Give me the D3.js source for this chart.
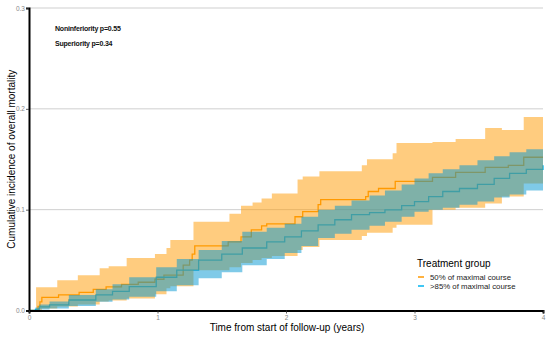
<!DOCTYPE html>
<html>
<head>
<meta charset="utf-8">
<script src="https://cdn.jsdelivr.net/npm/d3@7"></script>
<style>
  body { margin: 0; background: #fff; }
  svg { display: block; font-family: "Liberation Sans", Arial, sans-serif; }
</style>
</head>
<body>
<svg id="chart" width="550" height="337"></svg>
<script>
// cumulative incidence, 50% course group
const orangeT = [0, 0.07, 0.085, 0.10, 0.23, 0.39, 0.50, 0.60, 0.72, 0.85, 0.98, 1.05, 1.20, 1.25, 1.27, 1.29, 1.55, 1.65, 1.73, 1.81, 1.85, 2.07, 2.13, 2.25, 2.27, 2.62, 2.64, 2.72, 2.85, 3.14, 3.32, 3.55, 3.73, 3.85, 4.0];
const orangeEst = [0, 0.004, 0.0085, 0.013, 0.0155, 0.018, 0.021, 0.0235, 0.026, 0.028, 0.031, 0.035, 0.045, 0.050, 0.056, 0.064, 0.068, 0.073, 0.080, 0.084, 0.086, 0.093, 0.098, 0.105, 0.110, 0.113, 0.118, 0.121, 0.128, 0.132, 0.137, 0.142, 0.144, 0.152, 0.152];

const orangeBandT = [0, 0.055, 0.10, 0.22, 0.38, 0.55, 0.62, 0.76, 0.98, 1.07, 1.10, 1.28, 1.56, 1.65, 1.74, 1.81, 1.89, 2.09, 2.13, 2.26, 2.59, 2.63, 2.83, 2.86, 3.14, 3.32, 3.55, 3.68, 3.85, 4.0];
const orangeUpper = [0, 0.023, 0.023, 0.030, 0.035, 0.042, 0.044, 0.052, 0.056, 0.062, 0.070, 0.088, 0.096, 0.104, 0.107, 0.111, 0.116, 0.130, 0.133, 0.138, 0.144, 0.150, 0.156, 0.166, 0.167, 0.170, 0.181, 0.179, 0.192, 0.192];
const orangeLower = [0, 0, 0.002, 0.004, 0.006, 0.009, 0.010, 0.012, 0.016, 0.022, 0.024, 0.040, 0.043, 0.047, 0.050, 0.052, 0.054, 0.060, 0.063, 0.070, 0.074, 0.077, 0.082, 0.085, 0.100, 0.102, 0.106, 0.113, 0.126, 0.126];

// >85% course group
const blueT = [0, 0.05, 0.08, 0.16, 0.31, 0.52, 0.65, 0.78, 0.99, 1.15, 1.32, 1.50, 1.66, 1.85, 1.99, 2.12, 2.25, 2.38, 2.51, 2.65, 2.77, 2.90, 3.0, 3.11, 3.22, 3.35, 3.49, 3.62, 3.74, 3.87, 4.0];
const blueEst = [0, 0.001, 0.0035, 0.0055, 0.0104, 0.0154, 0.019, 0.0236, 0.033, 0.040, 0.050, 0.056, 0.062, 0.068, 0.073, 0.079, 0.085, 0.090, 0.095, 0.097, 0.0997, 0.104, 0.108, 0.113, 0.118, 0.121, 0.125, 0.131, 0.136, 0.140, 0.144];
const blueUpper = [0, 0.003, 0.006, 0.009, 0.0154, 0.021, 0.026, 0.033, 0.043, 0.051, 0.060, 0.069, 0.078, 0.082, 0.086, 0.093, 0.100, 0.104, 0.109, 0.114, 0.119, 0.125, 0.131, 0.136, 0.140, 0.144, 0.149, 0.153, 0.157, 0.160, 0.162];
const blueLower = [0, 0, 0.001, 0.002, 0.0045, 0.0087, 0.011, 0.0137, 0.019, 0.025, 0.032, 0.038, 0.045, 0.051, 0.057, 0.064, 0.072, 0.076, 0.080, 0.084, 0.088, 0.093, 0.098, 0.100, 0.102, 0.105, 0.108, 0.112, 0.115, 0.119, 0.123];

const xTicks = [0, 1, 2, 3, 4];
const yTicks = [0, 0.1, 0.2, 0.3];
const groupLabels = ["50% of maximal course", ">85% of maximal course"];
const pLabels = ["Noninferiority p=0.55", "Superiority p=0.34"];

const colors = { orange: "#ff9900", blue: "#0096d2", blueLine: "#00b4f0" };

const svg = d3.select("#chart");
const x = d3.scaleLinear().domain([0, 4]).range([29, 543]);
const y = d3.scaleLinear().domain([0, 0.3]).range([310.5, 8]);

// grid
svg.append("g")
    .selectAll("line")
    .data(yTicks.slice(1))
    .enter()
    .append("line")
    .attr("x1", x(0)).attr("x2", x(4))
    .attr("y1", d => y(d)).attr("y2", d => y(d))
    .attr("stroke", "#cfcfcf")
    .attr("stroke-width", 1);

const zip = (t, v) => t.map((d, i) => [d, v[i]]);
const band = (t, lo, hi) => t.map((d, i) => ({ t: d, lo: lo[i], hi: hi[i] }));

const line = d3.line()
    .curve(d3.curveStepAfter)
    .x(d => x(d[0]))
    .y(d => y(d[1]));

const area = d3.area()
    .curve(d3.curveStepAfter)
    .x(d => x(d.t))
    .y0(d => y(d.lo))
    .y1(d => y(d.hi));

// lines first, ribbons over them
svg.append("path")
    .attr("d", line(zip(orangeT, orangeEst)))
    .attr("fill", "none")
    .attr("stroke", colors.orange)
    .attr("stroke-width", 1.3);

svg.append("path")
    .attr("d", line(zip(blueT, blueEst)))
    .attr("fill", "none")
    .attr("stroke", colors.blueLine)
    .attr("stroke-width", 1.3);

svg.append("path")
    .attr("d", area(band(orangeBandT, orangeLower, orangeUpper)))
    .attr("fill", colors.orange)
    .attr("fill-opacity", 0.5);

svg.append("path")
    .attr("d", area(band(blueT, blueLower, blueUpper)))
    .attr("fill", colors.blue)
    .attr("fill-opacity", 0.5);

// axes
const yAxis = svg.append("g")
    .attr("transform", `translate(${x(0)},0)`)
    .call(d3.axisLeft(y).tickValues(yTicks).tickFormat(d3.format(".1f")).tickSize(3).tickPadding(1));
const xAxis = svg.append("g")
    .attr("transform", `translate(0,${y(0)})`)
    .call(d3.axisBottom(x).tickValues(xTicks).tickFormat(d3.format("d")).tickSize(3).tickPadding(2));

[yAxis, xAxis].forEach(g => {
    g.select(".domain").attr("stroke", "#000").attr("stroke-width", 2);
    g.selectAll(".tick line").attr("stroke", "#333").attr("stroke-width", 0.8);
    g.selectAll(".tick text").attr("fill", "#888").style("font-size", "6.5px");
});

// titles
svg.append("text")
    .attr("transform", `translate(15,${(y(0) + y(0.3)) / 2}) rotate(-90)`)
    .attr("text-anchor", "middle")
    .style("font-size", "10px")
    .text("Cumulative incidence of overall mortality");

svg.append("text")
    .attr("x", 287)
    .attr("y", 331)
    .attr("text-anchor", "middle")
    .style("font-size", "10px")
    .text("Time from start of follow-up (years)");

// p-values
svg.selectAll(".plab")
    .data(pLabels)
    .enter()
    .append("text")
    .attr("class", "plab")
    .attr("x", 55)
    .attr("y", (d, i) => 31 + i * 15)
    .style("font-size", "7px")
    .style("font-weight", "bold")
    .style("letter-spacing", "-0.2px")
    .attr("fill", "#111")
    .text(d => d);

// legend
const legend = svg.append("g").attr("transform", "translate(417,264)");
legend.append("text")
    .attr("x", 0).attr("y", 3)
    .style("font-size", "10px")
    .text("Treatment group");

const item = legend.selectAll(".item")
    .data(groupLabels)
    .enter()
    .append("g")
    .attr("class", "item")
    .attr("transform", (d, i) => `translate(0,${13 + i * 9})`);

item.append("line")
    .attr("x1", 1).attr("x2", 7)
    .attr("stroke", (d, i) => i === 0 ? colors.orange : colors.blueLine)
    .attr("stroke-width", 1.5);

item.append("text")
    .attr("x", 13).attr("y", 3)
    .style("font-size", "7.8px")
    .attr("fill", "#222")
    .text(d => d);
</script>
</body>
</html>
